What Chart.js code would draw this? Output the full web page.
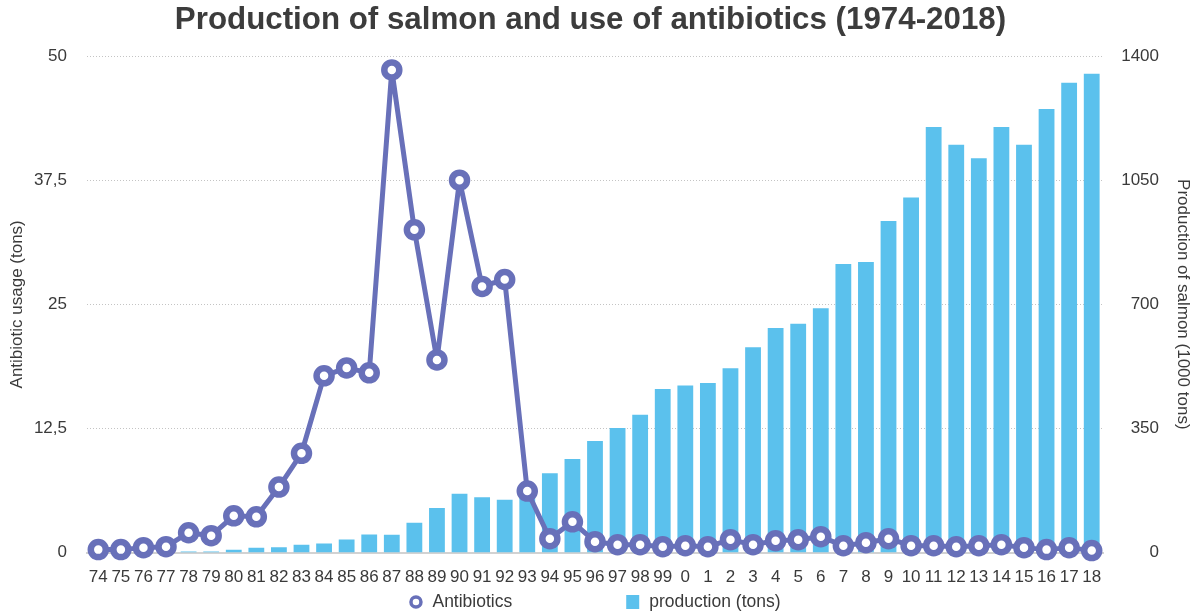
<!DOCTYPE html>
<html>
<head>
<meta charset="utf-8">
<title>Production of salmon and use of antibiotics (1974-2018)</title>
<script src="https://cdn.jsdelivr.net/npm/chart.js@4/dist/chart.umd.min.js"></script>
<style>
  html, body { margin: 0; padding: 0; background: #ffffff; }
  #wrap { position: relative; width: 1192px; height: 615px; }
</style>
</head>
<body>
<div id="wrap"><canvas id="chart" width="1192" height="615"></canvas></div>
<script>
// Year labels (two-digit, 1974 to 2018)
const years = ['74','75','76','77','78','79','80','81','82','83','84','85','86','87','88','89',
  '90','91','92','93','94','95','96','97','98','99','0','1','2','3','4','5','6','7','8','9',
  '10','11','12','13','14','15','16','17','18'];

// Antibiotic usage in tons
const antibiotics = [0.3, 0.3, 0.5, 0.6, 2.0, 1.7, 3.7, 3.6, 6.6, 10.0, 17.8, 18.6, 18.1,
  48.6, 32.5, 19.4, 37.5, 26.8, 27.5, 6.2, 1.4, 3.1, 1.1, 0.8, 0.8, 0.6, 0.7, 0.6, 1.3,
  0.8, 1.2, 1.3, 1.6, 0.7, 1.0, 1.4, 0.7, 0.7, 0.6, 0.7, 0.8, 0.5, 0.3, 0.5, 0.2];

// Salmon production in 1000 tons
const production = [0, 0, 0, 0, 3, 3, 8, 14, 15, 22, 26, 37, 51, 50, 84, 126, 166, 156,
  149, 155, 224, 264, 315, 351, 389, 461, 471, 478, 520, 579, 633, 645, 689, 814, 819,
  935, 1001, 1200, 1150, 1112, 1200, 1150, 1251, 1325, 1350];

// Axis ticks
const leftTicks = [0, 12.5, 25, 37.5, 50];
const rightTicks = [0, 350, 700, 1050, 1400];

const lineColor = '#6870b9';
const barColor = '#5bc1ed';
const textColor = '#3a3a3a';
const fontFamily = '"Liberation Sans", Arial, Helvetica, sans-serif';

// Legend drawn underneath the x axis with wide spacing between the two entries
const spacedLegend = {
  id: 'spacedLegend',
  afterDraw(chart) {
    const ctx = chart.ctx;
    const ds = chart.data.datasets;
    const y = chart.height - 13;
    ctx.save();
    ctx.font = '17.5px ' + fontFamily;
    ctx.textBaseline = 'middle';
    ctx.textAlign = 'left';
    const markW = 13, markGap = 10, itemGap = 114;
    const w0 = markW + markGap + ctx.measureText(ds[0].label).width;
    const w1 = markW + markGap + ctx.measureText(ds[1].label).width;
    const total = w0 + itemGap + w1;
    const cx = (chart.chartArea.left + chart.chartArea.right) / 2;
    let x = cx - total / 2;

    // line series marker: ring
    ctx.beginPath();
    ctx.arc(x + markW / 2, y, 5, 0, Math.PI * 2);
    ctx.fillStyle = '#ffffff';
    ctx.fill();
    ctx.lineWidth = 3.5;
    ctx.strokeStyle = ds[0].borderColor;
    ctx.stroke();
    ctx.fillStyle = textColor;
    ctx.fillText(ds[0].label, x + markW + markGap, y);

    x += w0 + itemGap;
    // bar series marker: square
    ctx.fillStyle = ds[1].backgroundColor;
    ctx.fillRect(x, y - 7, markW, markW + 1);
    ctx.fillStyle = textColor;
    ctx.fillText(ds[1].label, x + markW + markGap, y);
    ctx.restore();
  }
};

new Chart(document.getElementById('chart'), {
  type: 'bar',
  data: {
    labels: years,
    datasets: [
      {
        type: 'line',
        label: 'Antibiotics',
        data: antibiotics,
        yAxisID: 'yLeft',
        order: 0,
        borderColor: lineColor,
        borderWidth: 5,
        borderJoinStyle: 'round',
        borderCapStyle: 'round',
        tension: 0,
        pointRadius: 7.5,
        pointBorderWidth: 6.5,
        pointBackgroundColor: '#ffffff',
        pointBorderColor: lineColor,
        clip: false
      },
      {
        type: 'bar',
        label: 'production (tons)',
        data: production,
        yAxisID: 'yRight',
        order: 1,
        backgroundColor: barColor,
        barPercentage: 0.7,
        categoryPercentage: 1.0
      }
    ]
  },
  options: {
    responsive: false,
    animation: false,
    layout: { padding: { left: 22, right: 33, top: 0, bottom: 20 } },
    plugins: {
      legend: { display: false },
      tooltip: { enabled: false },
      title: {
        display: true,
        text: 'Production of salmon and use of antibiotics (1974-2018)',
        color: '#3c3c3c',
        font: { family: fontFamily, size: 31.3, weight: 'bold' },
        padding: { top: 2, bottom: 16.5 }
      }
    },
    scales: {
      x: {
        grid: { display: false },
        border: { display: true, color: '#d2d2d2', width: 2 },
        ticks: {
          color: textColor,
          font: { family: fontFamily, size: 17 },
          padding: 7,
          maxRotation: 0,
          autoSkip: false
        }
      },
      yLeft: {
        position: 'left',
        min: 0,
        max: 50,
        afterBuildTicks(scale) { scale.ticks = leftTicks.map(v => ({ value: v })); },
        afterFit(scale) { scale.width = 65; },
        grid: {
          color: '#c4c4c4',
          lineWidth: 1,
          drawTicks: false
        },
        border: { display: false, dash: [1, 2] },
        ticks: {
          color: textColor,
          font: { family: fontFamily, size: 17 },
          padding: 20,
          callback: v => String(v).replace('.', ',')
        },
        title: {
          display: true,
          text: 'Antibiotic usage (tons)',
          color: textColor,
          font: { family: fontFamily, size: 17 },
          padding: { top: -15.2, bottom: 0 }
        }
      },
      yRight: {
        position: 'right',
        min: 0,
        max: 1400,
        afterBuildTicks(scale) { scale.ticks = rightTicks.map(v => ({ value: v })); },
        afterFit(scale) { scale.width = 56; },
        grid: { display: false, drawTicks: false },
        border: { display: false },
        ticks: {
          color: textColor,
          font: { family: fontFamily, size: 17 },
          padding: 20,
          crossAlign: 'far',
          callback: v => String(v)
        },
        title: {
          display: true,
          text: 'Production of salmon (1000 tons)',
          color: textColor,
          font: { family: fontFamily, size: 17 },
          padding: { top: -34.2, bottom: 0 }
        }
      }
    }
  },
  plugins: [spacedLegend]
});
</script>
</body>
</html>
